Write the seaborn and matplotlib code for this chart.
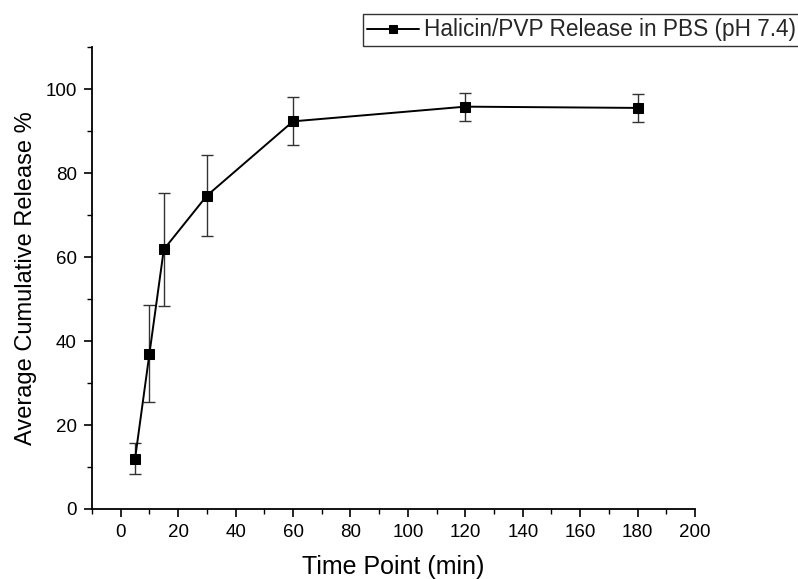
import matplotlib
matplotlib.use("Agg")
import matplotlib.pyplot as plt
import seaborn as sns
import pandas as pd
from matplotlib.ticker import MultipleLocator

time_min = [5, 10, 15, 30, 60, 120, 180]
release = [12.0, 37.0, 61.8, 74.6, 92.3, 95.8, 95.5]
err = [3.6, 11.5, 13.4, 9.7, 5.7, 3.3, 3.3]
series_label = "Halicin/PVP Release in PBS (pH 7.4)"

sns.set_theme(style="ticks")
plt.rcParams['font.family'] = ['Liberation Sans', 'DejaVu Sans']

df = pd.DataFrame({"t": time_min, "r": release, "e": err})

fig = plt.figure(figsize=(7.98, 5.79), dpi=100)
ax = fig.add_axes([0.1153, 0.1209, 0.871 - 0.1153, 0.9188 - 0.1209])

ax.errorbar(df["t"], df["r"], yerr=df["e"], fmt="none", ecolor="#333333",
            elinewidth=1.0, capsize=4, capthick=1.0, zorder=2)
sns.lineplot(data=df, x="t", y="r", ax=ax, color="black", marker="s",
             markersize=7.5, markeredgecolor="black", linewidth=1.4,
             label=series_label, zorder=3)

ax.set_xlim(-10, 200)
ax.set_ylim(0, 110)
ax.xaxis.set_major_locator(MultipleLocator(20))
ax.xaxis.set_minor_locator(MultipleLocator(10))
ax.yaxis.set_major_locator(MultipleLocator(20))
ax.yaxis.set_minor_locator(MultipleLocator(10))
ax.tick_params(axis="both", which="major", direction="out", length=6, width=1.2,
               labelsize=13.5, color="black", labelcolor="black", pad=5)
ax.tick_params(axis="both", which="minor", direction="out", length=3.5, width=1.0,
               color="black")
for side in ["top", "right"]:
    ax.spines[side].set_visible(False)
for side in ["left", "bottom"]:
    ax.spines[side].set_linewidth(1.3)
    ax.spines[side].set_color("black")

ax.set_xlabel("Time Point (min)", fontsize=18, color="black", labelpad=10)
ax.set_ylabel("Average Cumulative Release %", fontsize=17, color="black", labelpad=6)

handles, labels = ax.get_legend_handles_labels()
leg = ax.legend(handles, labels, loc="upper right", bbox_to_anchor=(1.003, 0.976),
                bbox_transform=fig.transFigure, frameon=True, fancybox=False,
                edgecolor="black", fontsize=16.3, handlelength=2.3, borderpad=0.2,
                handletextpad=0.2, borderaxespad=0, markerscale=0.7)
leg.get_frame().set_linewidth(1.0)

fig.savefig("out.png", dpi=100)
